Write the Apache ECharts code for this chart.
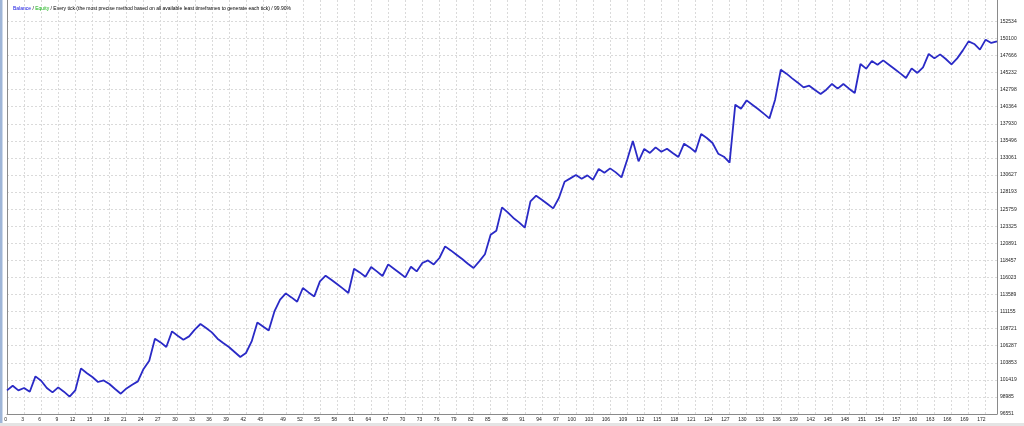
<!DOCTYPE html>
<html><head><meta charset="utf-8">
<script src="https://cdn.jsdelivr.net/npm/echarts@6/dist/echarts.min.js"></script>
<style>html,body{margin:0;padding:0;background:#fff}#c{width:1024px;height:426px}</style>
</head><body><div id="c"></div>
<script>
const balance = [
  99916,100587,99916,100259,99731,101913,101300,100259,99631,100344,
  99731,99018,99916,103054,102398,101827,101114,101342,100829,100116,
  99446,100202,100729,101200,102968,104152,107289,106761,106105,108330,
  107717,107146,107617,108572,109385,108815,108187,107289,106676,106105,
  105392,104679,105250,106904,109613,109043,108472,111182,112850,113749,
  113178,112565,114519,113891,113321,115460,116273,115702,115089,114462,
  113806,117271,116743,116130,117513,116886,116230,117884,117271,116658,
  116030,117556,116886,118084,118454,117884,118797,120451,119880,119267,
  118654,117984,117371,118312,119338,122119,122690,126012,125299,124501,
  123873,123117,126868,127681,127110,126497,125870,127353,129677,130148,
  130632,130105,130575,129962,131488,130960,131574,131003,130290,132814,
  135481,132572,134340,133770,134568,133955,134383,133770,133199,135096,
  134568,133912,136479,135909,135196,133670,133242,132386,140657,140087,
  141270,140657,140044,139374,138704,141370,145648,145078,144408,143794,
  143124,143367,142753,142183,142796,143609,142939,143609,142939,142326,
  146461,145791,146889,146361,146974,146361,145748,145121,144465,145834,
  145178,145976,147887,147260,147830,147174,146404,147260,148400,149684,
  149313,148500,149926,149456,149684
];
const xTickLabels = [0,3,6,9,12,15,18,21,24,27,30,33,36,39,42,45,49,52,55,58,61,64,67,70,73,76,79,82,85,88,91,94,97,100,103,106,109,112,115,118,121,124,127,130,133,136,139,142,145,148,151,154,157,160,163,166,169,172];
const yTickLabels = [96551,98985,101419,103853,106287,108721,111155,113589,116023,118457,120891,123325,125759,128193,130627,133061,135496,137930,140364,142798,145232,147666,150100,152534];
const categories = balance.map((_, i) => String(i));
const legendParts = ['Balance', 'Equity', 'Every tick (the most precise method based on all available least timeframes to generate each tick)', '99.90%'];

const xSet = new Set(xTickLabels);
const pick = (idx) => xSet.has(idx);
const FONT = 'Liberation Sans';
const chart = echarts.init(document.getElementById('c'), null, {renderer: 'canvas'});
chart.setOption({
  animation: false,
  backgroundColor: '#ffffff',
  title: {
    left: 8, top: 1,
    text: '{b|' + legendParts[0] + '}{k| / }{e|' + legendParts[1] + '}{k| / ' + legendParts[2] + ' / ' + legendParts[3] + '}',
    textStyle: {
      fontFamily: FONT, fontSize: 5, fontWeight: 'normal', color: '#000',
      rich: {
        b: {color: '#1010e0', fontSize: 5, fontFamily: FONT},
        e: {color: '#10b010', fontSize: 5, fontFamily: FONT},
        k: {color: '#000', fontSize: 5, fontFamily: FONT}
      }
    }
  },
  grid: {left: 7, right: 27, top: 0, bottom: 12, containLabel: false},
  xAxis: {
    type: 'category', data: categories, boundaryGap: false,
    axisLine: {show: true, onZero: false, lineStyle: {color: '#8a8a8a', width: 1}},
    axisTick: {show: false, interval: (i) => pick(i)},
    axisLabel: {interval: (i) => pick(i), fontFamily: FONT, fontSize: 5, color: '#222', margin: 3, align: 'right'},
    splitLine: {show: true, interval: (i) => pick(i), lineStyle: {color: '#dadada', type: [2, 2], width: 1}}
  },
  yAxis: [{
    type: 'value', position: 'right', min: 96551, max: 155583, scale: true,
    axisLine: {show: true, lineStyle: {color: '#8a8a8a', width: 1}},
    axisTick: {show: false, customValues: yTickLabels},
    axisLabel: {customValues: yTickLabels, formatter: (v) => String(Math.round(v)), fontFamily: FONT, fontSize: 5, color: '#222', margin: 3},
    splitLine: {show: true, lineStyle: {color: '#dadada', type: [2, 2], width: 1}}
  }, {
    type: 'value', position: 'left', min: 96551, max: 155583,
    axisLine: {show: true, lineStyle: {color: '#8a8a8a', width: 1}},
    axisTick: {show: false}, axisLabel: {show: false}, splitLine: {show: false}
  }],
  graphic: [
    {type: 'rect', left: 0, top: 0, shape: {width: 2.5, height: 426}, style: {fill: '#9fb6d8'}, silent: true},
    {type: 'rect', left: 0, top: 423, shape: {width: 1024, height: 3}, style: {fill: '#e4e4e4'}, silent: true}
  ],
  series: [{
    type: 'line', data: balance, yAxisIndex: 0, symbol: 'none', smooth: false,
    lineStyle: {color: '#2a2ac6', width: 1.8},
    z: 5
  }]
});
</script>
</body></html>
